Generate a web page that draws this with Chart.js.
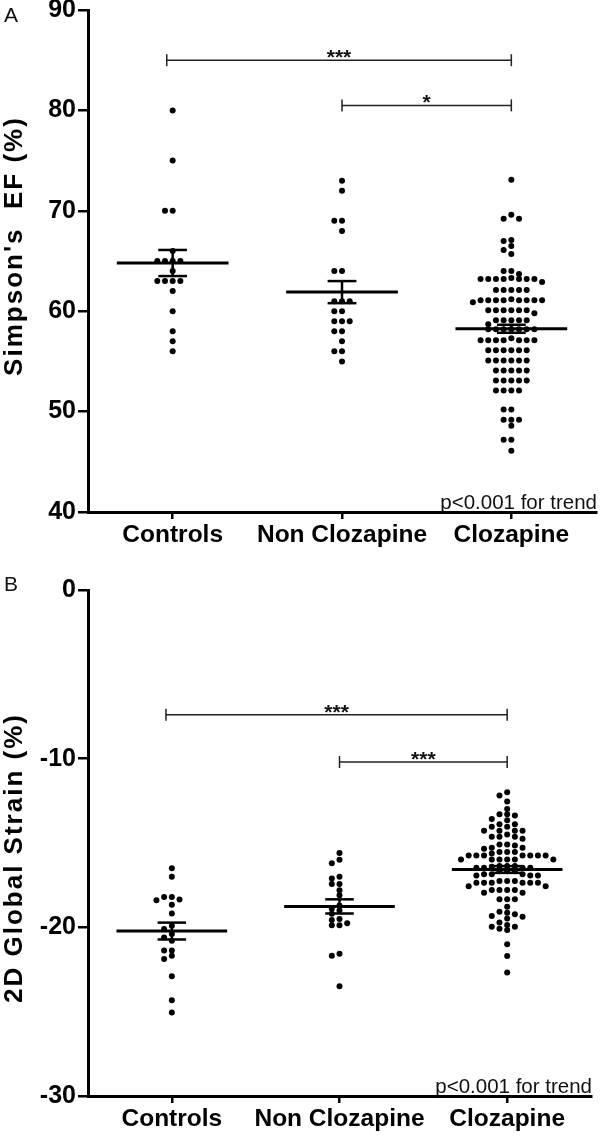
<!DOCTYPE html>
<html><head><meta charset="utf-8">
<script src="https://cdn.jsdelivr.net/npm/chart.js@4.4.1/dist/chart.umd.min.js"></script>
<style>
html,body{margin:0;padding:0;background:#fff;}
#wrapA{position:absolute;left:0;top:0;width:603px;height:560px;}
#wrapB{position:absolute;left:0;top:560px;width:603px;height:576px;}
</style></head><body>
<div id="wrapA"><canvas id="cA"></canvas></div>
<div id="wrapB"><canvas id="cB"></canvas></div>
<script>
// ---------- DATA ----------
const categories = ['Controls', 'Non Clozapine', 'Clozapine'];

// Panel A: Simpson's EF (%)
const efControls = [80, 75, 70, 70, 66, 65, 65, 65, 65, 64, 63, 63, 63, 63, 62, 60, 58, 57, 56];
const efNonClozapine = [73, 72, 69, 69, 68, 64, 64, 61, 61, 61, 60, 60, 59, 59, 59, 58, 58, 57, 56, 56, 55];
const efClozapine = [73.1, 69.6, 69.2, 69.2, 67.1, 67.0, 66.5, 66.1, 65.7, 64.0, 64.0, 63.7,
  63.2, 63.2, 63.2, 63.2, 62.9, 63.2, 63.2, 63.2, 63.3,
  62.1, 62.1, 62.1, 62.1, 62.1,
  61.2, 61.1, 61.1, 61.1, 61.1, 61.1, 61.1, 61.1, 61.1, 60.9,
  60.1, 60.1, 60.1, 60.1, 60.1, 60.1, 59.8,
  59.1, 59.1, 59.1, 59.1, 59.1, 58.7,
  58.2, 58.2, 58.2, 58.2, 58.2, 58.2, 58.2,
  57.3, 57.1, 57.1, 57.1, 57.1, 57.1, 57.1, 57.1,
  56.1, 56.1, 56.1, 56.1, 56.1, 56.1,
  55.1, 55.1, 55.1, 55.1, 55.1, 55.1,
  54.1, 54.1, 54.1, 54.1, 54.1,
  53.1, 53.1, 53.1, 53.1, 53.1,
  52.1, 52.1, 52.1, 52.1,
  50.2, 50.2, 49.2, 49.2, 49.2, 48.6, 47.2, 47.2, 46.1];
const efMeans = [64.8, 61.9, 58.25];
const efSEM = [1.3, 1.1, 0.4];
const efTicks = [40, 50, 60, 70, 80, 90];

// Panel B: 2D Global Strain (%)
const gsControls = [-16.5, -17.0, -18.2, -18.35, -18.2, -18.4, -18.66, -19.18, -19.9, -20.1, -20.4, -20.6, -20.8,
  -21.38, -21.38, -21.68, -21.88, -22.9, -24.33, -25.05];
const gsNonClozapine = [-15.6, -16.0, -16.2, -17.0, -17.1, -17.43, -17.43, -17.8, -18.1, -18.7, -18.9, -19.0, -19.2,
  -19.5, -19.56, -19.76, -19.88, -19.88, -21.56, -21.68, -23.5];
const gsClozapine = [-11.99, -12.19, -12.54, -12.98,
  -13.29, -13.29, -13.37, -13.57, -13.65,
  -13.89, -13.89, -14.04, -14.04, -14.28, -14.28, -14.28, -14.28,
  -14.5, -14.63, -14.63, -14.63, -14.75,
  -15.09, -15.09, -15.15, -15.28, -15.28,
  -15.34, -15.54, -15.54, -15.54, -15.62, -15.74, -15.74, -15.74, -15.74, -15.74, -15.74, -15.74,
  -15.98, -15.98, -15.98, -15.98, -15.98, -15.98,
  -16.37, -16.37, -16.37, -16.41, -16.47, -16.47, -16.47, -16.47,
  -16.67, -16.67, -16.67,
  -16.86, -16.86, -16.86, -16.92, -16.92, -16.92,
  -17.26, -17.26, -17.26,
  -17.35, -17.35, -17.35, -17.35, -17.35, -17.35,
  -17.56, -17.56, -17.79, -17.79, -17.79, -17.79, -17.95, -17.95,
  -18.34, -18.34, -18.34, -18.78,
  -19.08, -19.13, -19.23, -19.33, -19.37, -19.48,
  -19.72, -19.86, -19.96, -19.96, -20.08, -20.16,
  -21.0, -21.7, -22.68];
const gsMeans = [-20.22, -18.76, -16.57];
const gsSEM = [0.5, 0.42, 0.2];
const gsTicks = [-30, -20, -10, 0];

// significance brackets: [fromGroup, toGroup, level, label]
const efBrackets = [[0, 2, 85, '***'], [1, 2, 80.5, '*']];
const gsBrackets = [[0, 2, -7.4, '***'], [1, 2, -10.2, '***']];
const trendText = 'p<0.001 for trend';

// ---------- RENDERING ----------
const FF = "'Liberation Sans', Arial, Helvetica, sans-serif";

// GraphPad-like column scatter: points at the same level are spread sideways
function swarm(values, groupIndex, thr, step) {
  const placed = [];
  const order = [0];
  for (let i = 1; i < 30; i++) order.push(-i, i);
  return values.slice().sort((a, b) => b - a).map(v => {
    let slot = 0;
    for (const s of order) {
      if (!placed.some(p => p.s === s && Math.abs(p.v - v) < thr)) { slot = s; break; }
    }
    placed.push({s: slot, v});
    return {x: groupIndex + slot * step, y: v};
  });
}

const annotPlugin = {
  id: 'annot',
  afterDatasetsDraw(chart, args, o) {
    const {ctx, scales: {x, y}} = chart;
    const line = (x1, y1, x2, y2) => { ctx.beginPath(); ctx.moveTo(x1, y1); ctx.lineTo(x2, y2); ctx.stroke(); };
    ctx.save();
    ctx.strokeStyle = '#000';
    ctx.lineCap = 'butt';
    o.means.forEach((m, i) => {
      const cx = x.getPixelForValue(i);
      const ym = y.getPixelForValue(m);
      const yt = y.getPixelForValue(m + o.sems[i]);
      const yb = y.getPixelForValue(m - o.sems[i]);
      const cl = x.getPixelForValue(i - 0.085), cr = x.getPixelForValue(i + 0.085);
      ctx.lineWidth = 3;
      line(x.getPixelForValue(i - 0.33), ym, x.getPixelForValue(i + 0.33), ym);
      ctx.lineWidth = 2.5;
      line(cx, yt, cx, yb);
      line(cl, yt, cr, yt);
      line(cl, yb, cr, yb);
    });
    // brackets
    ctx.strokeStyle = '#222';
    ctx.lineWidth = 1.5;
    ctx.fillStyle = '#111';
    ctx.font = 'bold 21px ' + FF;
    ctx.textAlign = 'center';
    ctx.textBaseline = 'alphabetic';
    o.brackets.forEach(([a, b, lvl, lab]) => {
      const x1 = x.getPixelForValue(a - (a === 0 ? 0.035 : 0)), x2 = x.getPixelForValue(b);
      const yy = y.getPixelForValue(lvl);
      line(x1, yy, x2, yy);
      line(x1, yy - 6, x1, yy + 6);
      line(x2, yy - 6, x2, yy + 6);
      ctx.fillText(lab, (x1 + x2) / 2, yy + 4);
    });
    ctx.restore();
  },
  afterDraw(chart, args, o) {
    const {ctx, chartArea} = chart;
    ctx.save();
    ctx.fillStyle = '#111';
    ctx.font = '20.5px ' + FF;
    ctx.textAlign = 'right';
    ctx.textBaseline = 'alphabetic';
    ctx.fillText(trendText, chartArea.right + 1, chartArea.bottom - 3);
    ctx.font = '21px ' + FF;
    ctx.textAlign = 'left';
    ctx.textBaseline = 'top';
    ctx.fillText(o.letter, 4, o.letterY);
    // y-axis title (letter-spaced, as in the original figure)
    ctx.save();
    ctx.translate(15, o.titleY);
    ctx.rotate(-Math.PI / 2);
    ctx.fillStyle = '#000';
    ctx.font = 'bold 26px ' + FF;
    if ('letterSpacing' in ctx) ctx.letterSpacing = '2px';
    ctx.textAlign = 'center';
    ctx.textBaseline = 'middle';
    ctx.fillText(o.title, 0, 0);
    ctx.restore();
    ctx.restore();
  }
};

function makeChart(id, groups, means, sems, yMin, yMax, yTicks, yTitle, brackets, letter, lay) {
  const datasets = groups.map((vals, i) => ({
    data: swarm(vals, i, lay.thr, lay.step),
    pointRadius: 3,
    pointHoverRadius: 3,
    pointBackgroundColor: '#000',
    pointBorderWidth: 0,
    showLine: false
  }));
  return new Chart(document.getElementById(id), {
    type: 'scatter',
    data: {datasets},
    plugins: [annotPlugin],
    options: {
      responsive: true,
      maintainAspectRatio: false,
      animation: false,
      events: [],
      layout: {padding: {top: lay.top, right: lay.right, left: 0, bottom: 0}},
      plugins: {
        legend: {display: false},
        tooltip: {enabled: false},
        annot: {means, sems, brackets, letter, letterY: lay.letterY, title: yTitle, titleY: lay.titleY}
      },
      scales: {
        x: {
          type: 'linear', min: -0.5, max: 2.5,
          afterBuildTicks: s => { s.ticks = categories.map((c, i) => ({value: i})); },
          afterFit: s => { s.height = lay.xh; s.paddingLeft = 0; s.paddingRight = 0; },
          ticks: {
            callback: v => categories[v],
            font: {family: FF, size: 24.5, weight: 'bold'},
            color: '#000', padding: 2, maxRotation: 0, autoSkip: false
          },
          grid: {display: true, drawOnChartArea: false, drawTicks: true, tickLength: 7, color: '#000', lineWidth: 2.5},
          border: {display: true, color: '#000', width: 3}
        },
        y: {
          type: 'linear', min: yMin, max: yMax,
          afterBuildTicks: s => { s.ticks = yTicks.map(v => ({value: v})); },
          afterFit: s => { s.width = 88; s.paddingTop = 0; s.paddingBottom = 0; },
          ticks: {font: {family: FF, size: 25, weight: 'bold'}, color: '#000', padding: 2},
          grid: {display: true, drawOnChartArea: false, drawTicks: true, tickLength: 10, color: '#000', lineWidth: 2.5},
          border: {display: true, color: '#000', width: 3},
          title: {display: false, text: yTitle}
        }
      }
    }
  });
}

makeChart('cA', [efControls, efNonClozapine, efClozapine], efMeans, efSEM, 40, 90, efTicks,
  "Simpson's  EF (%)", efBrackets, 'A',
  {top: 10, right: 7, xh: 48, thr: 0.5, step: 0.0454, letterY: 6, titleY: 246});
makeChart('cB', [gsControls, gsNonClozapine, gsClozapine], gsMeans, gsSEM, -30, 0, gsTicks,
  '2D Global Strain (%)', gsBrackets, 'B',
  {top: 30, right: 12, xh: 40, thr: 0.3, step: 0.0459, letterY: 15, titleY: 298});
</script>
</body></html>
